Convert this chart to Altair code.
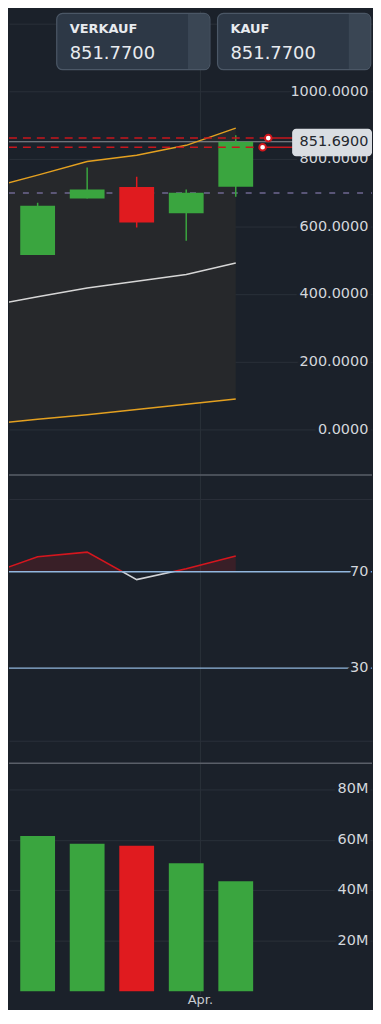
import altair as alt
import numpy as np
import pandas as pd

# ---------------- data ----------------
days = [0, 7, 14, 21, 28, 35]            # weekly candles, days since Mon 2 Mar
opens = [620.6, 516.5, 684.0, 717.6, 640.0, 718.5]
highs = [630.0, 671.5, 775.3, 748.0, 710.6, 870.6]
lows = [515.0, 516.5, 684.0, 598.0, 558.8, 689.0]
closes = [525.0, 662.6, 710.6, 612.6, 701.0, 851.69]
bb_upper = [714, 753, 793, 812, 841, 892]
bb_middle = [366, 393, 419, 439, 459, 493]
bb_lower = [15.6, 31, 44, 60, 75, 91]
rsi = [68.9, 76.2, 78.1, 66.7, 71.2, 76.5]
volume_m = [56.3, 61.5, 58.4, 57.6, 50.7, 43.5]

price_grid = [0, 200, 400, 600, 800, 1000, 1200]
price_tick_vals = [0, 200, 400, 600, 800, 1000]
price_tick_labels = ["0.0000", "200.0000", "400.0000", "600.0000", "800.0000", "1000.0000"]
rsi_levels = [70, 30]
rsi_labels = ["70", "30"]
vol_tick_vals = [20, 40, 60, 80]
vol_tick_labels = ["20M", "40M", "60M", "80M"]
month_day = [30]
month_label = ["Apr."]
support_level = [700]
order_levels = [862.6, 835.3]
last_price = [851.69]
last_price_label = ["851.6900"]
card_titles = ["VERKAUF", "KAUF"]
card_values = ["851.7700", "851.7700"]

# ---------------- style ----------------
BG = "#1b212a"
GRID = "#2a3039"
GREEN = "#3aa53f"
RED = "#e01b1f"
ORANGE = "#e3a020"
BAND = "#26282b"
MID = "#d6d6d6"
PURPLE = "#6f6791"
LEVEL_RED = "#c8161d"
PRICE_LINE = "#8c9097"
RSI_BLUE = "#92b7de"
SEP = "#5a5f68"
LABEL = "#d4d7dc"
FONT = "DejaVu Sans"
W = 365
LABEL_X = 361.3
HANDLE_X = [260.7, 255.0]

df = pd.DataFrame({"day": days, "open": opens, "high": highs, "low": lows,
                   "close": closes, "upper": bb_upper, "middle": bb_middle,
                   "lower": bb_lower, "rsi": rsi, "vol": volume_m})
df["dir"] = np.where(df["close"] >= df["open"], "up", "down")

X_SCALE = alt.Scale(domain=[2.952, 54.257], nice=False, zero=False, padding=0)
color_enc = alt.Color("dir:N", scale=alt.Scale(domain=["up", "down"], range=[GREEN, RED]), legend=None)
one = pd.DataFrame({"k": [0]})


def xenc(field="day"):
    return alt.X(f"{field}:Q", scale=X_SCALE,
                 axis=alt.Axis(values=month_day, grid=True, gridColor=GRID, gridWidth=1,
                               labels=False, ticks=False, domain=False, title=None))


def make_y(domain, grid):
    sc = alt.Scale(domain=domain, nice=False, zero=False, padding=0)
    ax = alt.Axis(values=grid, grid=True, gridColor=GRID, gridWidth=1,
                  labels=False, ticks=False, domain=False, title=None)

    def y(field):
        return alt.Y(f"{field}:Q", scale=sc, axis=ax)
    return y


def labels(values, texts, yf):
    d = pd.DataFrame({"v": values, "t": texts})
    halo = alt.Chart(d).mark_text(align="right", baseline="middle", font=FONT, fontSize=14.5,
                                  fill=BG, stroke=BG, strokeWidth=7, strokeJoin="round").encode(
        x=alt.value(LABEL_X), y=yf("v"), text="t:N")
    txt = alt.Chart(d).mark_text(align="right", baseline="middle", font=FONT, fontSize=14.5,
                                 color=LABEL).encode(x=alt.value(LABEL_X), y=yf("v"), text="t:N")
    return [halo, txt]


# ---------------- price panel ----------------
yp = make_y([-131.5, 1239.1], price_grid)
base = alt.Chart(df)
band = base.mark_area(color=BAND, clip=True, orient="vertical").encode(
    x=xenc(), y=yp("lower"), y2=alt.Y2("upper:Q"))
up_line = base.mark_line(color=ORANGE, strokeWidth=1.5, clip=True).encode(x=xenc(), y=yp("upper"))
lo_line = base.mark_line(color=ORANGE, strokeWidth=1.5, clip=True).encode(x=xenc(), y=yp("lower"))
mid_line = base.mark_line(color=MID, strokeWidth=1.5, clip=True).encode(x=xenc(), y=yp("middle"))
support = alt.Chart(pd.DataFrame({"v": support_level})).mark_rule(
    color=PURPLE, strokeWidth=1.5, strokeDash=[6, 8]).encode(
    x=alt.value(0), x2=alt.value(W), y=yp("v"))
price_line = alt.Chart(pd.DataFrame({"v": last_price})).mark_rule(
    color=PRICE_LINE, strokeWidth=1.2).encode(x=alt.value(0), x2=alt.value(W), y=yp("v"))
wicks = base.mark_rule(strokeWidth=1.5, clip=True).encode(
    x=xenc(), y=yp("low"), y2=alt.Y2("high:Q"), color=color_enc)
bodies = base.mark_bar(size=35, orient="vertical", clip=True).encode(
    x=xenc(), y=yp("open"), y2=alt.Y2("close:Q"), color=color_enc)

order_layers = []
for lvl, hx in zip(order_levels, HANDLE_X):
    d = pd.DataFrame({"v": [lvl]})
    order_layers.append(alt.Chart(d).mark_rule(color=LEVEL_RED, strokeWidth=1.5, strokeDash=[8, 6]).encode(
        x=alt.value(0), x2=alt.value(hx), y=yp("v")))
    order_layers.append(alt.Chart(d).mark_rule(color=LEVEL_RED, strokeWidth=1.5).encode(
        x=alt.value(hx), x2=alt.value(W), y=yp("v")))
for lvl, hx in zip(order_levels, HANDLE_X):
    d = pd.DataFrame({"v": [lvl]})
    order_layers.append(alt.Chart(d).mark_point(shape="circle", filled=True, fill="white", opacity=1,
                                                stroke="#d0161c", strokeWidth=2, size=45).encode(
        x=alt.value(hx), y=yp("v")))

lp_df = pd.DataFrame({"v": last_price, "t": last_price_label})
lp_box = alt.Chart(one).mark_rect(fill="#d9dde2", cornerRadius=4).encode(
    x=alt.value(284.7), x2=alt.value(W), y=alt.value(118.7), y2=alt.value(146.3))
lp_text = alt.Chart(lp_df).mark_text(align="right", baseline="middle", font=FONT, fontSize=14.5,
                                     color="#23272e").encode(x=alt.value(LABEL_X), y=yp("v"), text="t:N")

cards = []
for i, (ttl, val) in enumerate(zip(card_titles, card_values)):
    x0 = [48.0, 209.7][i]
    x1 = min(x0 + 154, W - 1)
    cards.append(alt.Chart(one).mark_rect(fill="#2d3846", stroke="#4b5766", strokeWidth=1.2,
                                          cornerRadius=6).encode(
        x=alt.value(x0), x2=alt.value(x1), y=alt.value(2.7), y2=alt.value(59.3)))
    cards.append(alt.Chart(one).mark_rect(fill="#3a4654", cornerRadiusTopRight=5,
                                          cornerRadiusBottomRight=5).encode(
        x=alt.value(x0 + 132), x2=alt.value(x1 - 0.6), y=alt.value(3.3), y2=alt.value(58.7)))
    cards.append(alt.Chart(pd.DataFrame({"t": [ttl]})).mark_text(
        align="left", baseline="middle", font=FONT, fontSize=13, fontWeight="bold", color="#e8ebef").encode(
        x=alt.value(x0 + 13), y=alt.value(18.7), text="t:N"))
    cards.append(alt.Chart(pd.DataFrame({"t": [val]})).mark_text(
        align="left", baseline="middle", font=FONT, fontSize=18, color="#e8ebef").encode(
        x=alt.value(x0 + 13), y=alt.value(43.3), text="t:N"))

price_panel = alt.layer(
    band, support, price_line, up_line, lo_line, mid_line, wicks, bodies,
    *order_layers, *labels(price_tick_vals, price_tick_labels, yp), lp_box, lp_text, *cards
).properties(width=W, height=466)

# ---------------- RSI panels ----------------
yr_up = make_y([70, 110.41], [100])
sep_up = alt.Chart(one).mark_rule(color=SEP, strokeWidth=1.5).encode(
    x=alt.value(0), x2=alt.value(W), y=alt.value(0.75))
rsi_area = base.mark_area(color="#d0161c", opacity=0.17, clip=True, orient="vertical").encode(
    x=xenc(), y=yr_up("rsi"), y2=alt.datum(70))
rsi_red = base.mark_line(color="#d5161e", strokeWidth=1.6, clip=True).encode(x=xenc(), y=yr_up("rsi"))
rsi_up_panel = alt.layer(rsi_area, rsi_red, sep_up).properties(width=W, height=98)

yr_lo = make_y([-9.18, 70], [0])
rsi_white = base.mark_line(color="#cfd2d6", strokeWidth=1.6, clip=True).encode(x=xenc(), y=yr_lo("rsi"))
rsi_rules = alt.Chart(pd.DataFrame({"v": rsi_levels})).mark_rule(color=RSI_BLUE, strokeWidth=1.5).encode(
    x=alt.value(0), x2=alt.value(W), y=yr_lo("v"))
rsi_lo_panel = alt.layer(rsi_white, rsi_rules, *labels(rsi_levels, rsi_labels, yr_lo)).properties(
    width=W, height=192)

# ---------------- volume panel ----------------
yv = make_y([-5.6, 90.54], vol_tick_vals)
sep_vol = alt.Chart(one).mark_rule(color=SEP, strokeWidth=1.5).encode(
    x=alt.value(0), x2=alt.value(W), y=alt.value(0.75))
vol_bars = base.mark_bar(size=35, orient="vertical", clip=True).encode(
    x=xenc(), y=yv("vol"), y2=alt.datum(0), color=color_enc)
month_df = pd.DataFrame({"day": month_day, "t": month_label})
month_halo = alt.Chart(month_df).mark_text(align="center", baseline="middle", font=FONT, fontSize=13,
                                           fill=BG, stroke=BG, strokeWidth=4).encode(
    x=xenc(), y=alt.value(239), text="t:N")
month_text = alt.Chart(month_df).mark_text(align="center", baseline="middle", font=FONT, fontSize=13,
                                           color="#c9ccd1").encode(x=xenc(), y=alt.value(239), text="t:N")
vol_panel = alt.layer(vol_bars, sep_vol, *labels(vol_tick_vals, vol_tick_labels, yv),
                      month_halo, month_text).properties(width=W, height=244)

chart = alt.vconcat(price_panel, rsi_up_panel, rsi_lo_panel, vol_panel, spacing=0, bounds="flush").properties(
    padding=0
).configure(background=BG).configure_view(strokeWidth=0)

chart.save("out.html", embed_options={"renderer": "svg", "actions": False})
